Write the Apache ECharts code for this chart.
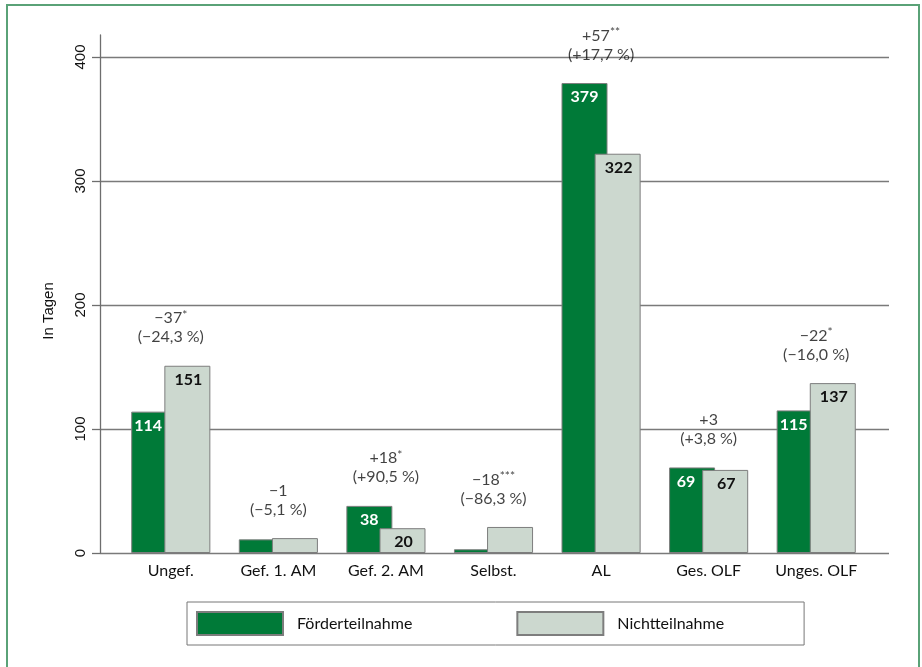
<!DOCTYPE html>
<html>
<head>
<meta charset="utf-8">
<script src="https://cdn.jsdelivr.net/npm/echarts@6/dist/echarts.min.js"></script>
<style>
html,body{margin:0;padding:0;background:#fff;}
#chart{width:922px;height:667px;}
</style>
</head>
<body>
<div id="chart"></div>
<script>
const categories = ['Ungef.', 'Gef. 1. AM', 'Gef. 2. AM', 'Selbst.', 'AL', 'Ges. OLF', 'Unges. OLF'];
const foerder = [114, 11, 38, 3, 379, 69, 115];
const nicht = [151, 12, 20, 21, 322, 67, 137];
const diffNum = ['−37', '−1', '+18', '−18', '+57', '+3', '−22'];
const diffStars = ['*', '', '*', '***', '**', '', '*'];
const pctText = ['(−24,3 %)', '(−5,1 %)', '(+90,5 %)', '(−86,3 %)', '(+17,7 %)', '(+3,8 %)', '(−16,0 %)'];
const showValue = [true, false, true, false, true, true, true];
const seriesNames = ['Förderteilnahme', 'Nichtteilnahme'];
const yMax = 400;
const yStep = 100;

const GREEN = '#007a38';
const GREY = '#ccd8cf';
const BORDER = '#7d7d7d';
const TXT = '#111';
const SANS = 'Lato, "Noto Sans", sans-serif';
const ARIAL = '"Liberation Sans", Arial, sans-serif';

const chart = echarts.init(document.getElementById('chart'), null, {renderer: 'canvas'});

const greenData = foerder.map((v, i) => ({
  value: v,
  label: {
    show: showValue[i],
    offset: nicht[i] > v - 10 ? [-6, 0] : [0, 0]
  }
}));
const greyData = nicht.map((v, i) => ({
  value: v,
  label: { show: showValue[i], offset: [1, 0] }
}));
const annData = foerder.map((v, i) => Math.max(v, nicht[i]));

const option = {
  backgroundColor: '#fff',
  animation: false,
  graphic: [{
    type: 'rect',
    shape: { x: 7, y: 5, width: 912, height: 700 },
    style: { fill: 'none', stroke: '#5aa277', lineWidth: 2 },
    silent: true
  }],
  legend: {
    data: seriesNames,
    left: 187,
    top: 602,
    orient: 'horizontal',
    padding: [9, 80, 9, 9],
    itemWidth: 86,
    itemHeight: 23,
    itemGap: 104,
    borderColor: '#777',
    borderWidth: 1,
    icon: 'rect',
    selectedMode: false,
    formatter: '{t|{name}}',
    textStyle: {
      fontFamily: SANS, fontSize: 16, color: TXT,
      rich: { t: { fontFamily: SANS, fontSize: 16, color: TXT, padding: [0, 0, 0, 9] } }
    }
  },
  grid: [
    { left: 100, right: 33, top: 35, bottom: 114 },
    { left: 100, right: 33, top: 57, bottom: 114 },
    { left: 117, right: 52, top: 57, bottom: 114 }
  ],
  xAxis: [
    { gridIndex: 0, type: 'category', data: categories, show: false },
    { gridIndex: 1, type: 'category', data: categories, show: false },
    {
      gridIndex: 2, type: 'category', data: categories,
      axisLine: { show: false }, axisTick: { show: false },
      axisLabel: { fontFamily: SANS, fontSize: 16, color: TXT, margin: 10, interval: 0 }
    }
  ],
  yAxis: [
    {
      gridIndex: 0, type: 'value', min: 0, max: 418,
      axisLine: { show: true, lineStyle: { color: '#6e6e6e', width: 1.3 } },
      axisTick: { show: false }, axisLabel: { show: false }, splitLine: { show: false }
    },
    {
      gridIndex: 1, type: 'value', min: 0, max: yMax, interval: yStep,
      name: 'In Tagen', nameLocation: 'middle', nameGap: 44,
      nameTextStyle: { fontFamily: ARIAL, fontSize: 15, color: TXT, padding: [0, 0, 0, -12] },
      axisLine: { show: false },
      axisTick: { show: true, length: 8, lineStyle: { color: '#6e6e6e', width: 1.3 } },
      axisLabel: { rotate: 90, fontFamily: ARIAL, fontSize: 15, color: TXT, margin: 12 },
      splitLine: { show: true, lineStyle: { color: '#7a7a7a', width: 1.3 } }
    },
    { gridIndex: 2, type: 'value', min: 0, max: yMax, interval: yStep, show: false }
  ],
  series: [
    {
      name: seriesNames[0], type: 'bar', xAxisIndex: 2, yAxisIndex: 2,
      data: greenData, barWidth: 46, barGap: '-28%',
      itemStyle: { color: GREEN, borderColor: BORDER, borderWidth: 1 },
      label: {
        position: 'insideTop', distance: 6, fontFamily: SANS, fontWeight: 'bold',
        fontSize: 16, color: '#fff'
      },
      z: 2
    },
    {
      name: seriesNames[1], type: 'bar', xAxisIndex: 2, yAxisIndex: 2,
      data: greyData, barWidth: 46, barGap: '-28%',
      itemStyle: { color: GREY, borderColor: BORDER, borderWidth: 1 },
      label: {
        position: 'insideTop', distance: 6, fontFamily: SANS, fontWeight: 'bold',
        fontSize: 16, color: TXT
      },
      z: 3
    },
    {
      name: 'ann', type: 'scatter', xAxisIndex: 2, yAxisIndex: 2,
      data: annData, symbolSize: 0.1, silent: true, clip: false,
      itemStyle: { color: 'rgba(0,0,0,0)' },
      label: {
        show: true, position: 'top', distance: 19,
        formatter: (p) => '{n|' + diffNum[p.dataIndex] + '}' +
          (diffStars[p.dataIndex] ? '{s|' + diffStars[p.dataIndex] + '}' : '') +
          '\n{n|' + pctText[p.dataIndex] + '}',
        rich: {
          n: { fontFamily: SANS, fontSize: 16, color: TXT, lineHeight: 19 },
          s: { fontFamily: SANS, fontSize: 12, color: TXT, lineHeight: 19, verticalAlign: 'top' }
        },
        align: 'center'
      },
      z: 5
    }
  ]
};
chart.setOption(option);
</script>
</body>
</html>
